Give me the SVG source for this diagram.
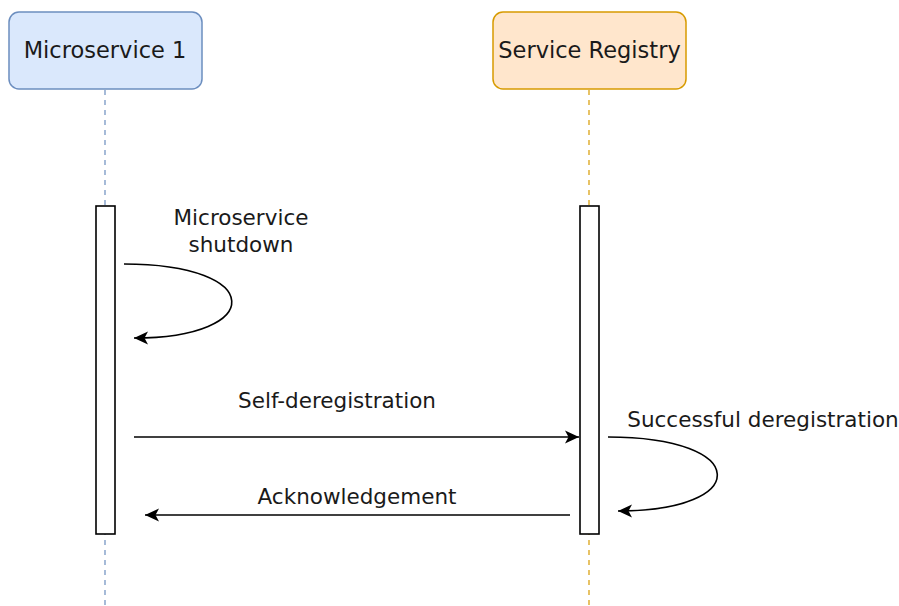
<svg xmlns="http://www.w3.org/2000/svg" width="899" height="606" viewBox="0 0 899 606">
<defs>
<style>
text{font-family:"DejaVu Sans",Verdana,sans-serif;fill:#1a1a1a}
.node{font-size:22.5px}
.lbl{font-size:21.5px}
.life{fill:none;stroke-width:1.2;stroke-dasharray:5 5}
.act{fill:#fff;stroke:#000;stroke-width:1.6}
.msg{fill:none;stroke:#000;stroke-width:1.6}
</style>
<marker id="a" markerWidth="15" markerHeight="15" refX="14" refY="7.5" orient="auto" markerUnits="userSpaceOnUse">
<path d="M0,1 L14,7.5 L0,14 L3.5,7.5 Z" fill="#000"/>
</marker>
</defs>
<g id="lifelines">
<line class="life" x1="105" y1="90" x2="105" y2="606" stroke="#6c8ebf"/>
<line class="life" x1="589" y1="90" x2="589" y2="606" stroke="#d79b00"/>
</g>
<g id="microservice1">
<rect x="9" y="12" width="193" height="77" rx="10" fill="#dae8fc" stroke="#6c8ebf" stroke-width="1.5"/>
<text class="node" x="105" y="58" text-anchor="middle">Microservice 1</text>
<rect class="act" x="96" y="206" width="19" height="328"/>
</g>
<g id="service-registry">
<rect x="493" y="12" width="193" height="77" rx="10" fill="#ffe6cc" stroke="#d79b00" stroke-width="1.5"/>
<text class="node" x="589.5" y="58" text-anchor="middle">Service Registry</text>
<rect class="act" x="580" y="206" width="19" height="328"/>
</g>
<g id="connectors">
<path class="msg" d="M124,264 C266,264 266,338 134,338" marker-end="url(#a)"/>
<path class="msg" d="M134,437 L579,437" marker-end="url(#a)"/>
<path class="msg" d="M570,515 L145,515" marker-end="url(#a)"/>
<path class="msg" d="M608,437 C752,437 752,511 618,511" marker-end="url(#a)"/>
</g>
<g id="labels">
<text class="lbl" x="241" y="225" text-anchor="middle">Microservice</text>
<text class="lbl" x="241" y="252" text-anchor="middle">shutdown</text>
<text class="lbl" x="337" y="408" text-anchor="middle">Self-deregistration</text>
<text class="lbl" x="357" y="504" text-anchor="middle">Acknowledgement</text>
<text class="lbl" x="763" y="427" text-anchor="middle">Successful deregistration</text>
</g>
</svg>
